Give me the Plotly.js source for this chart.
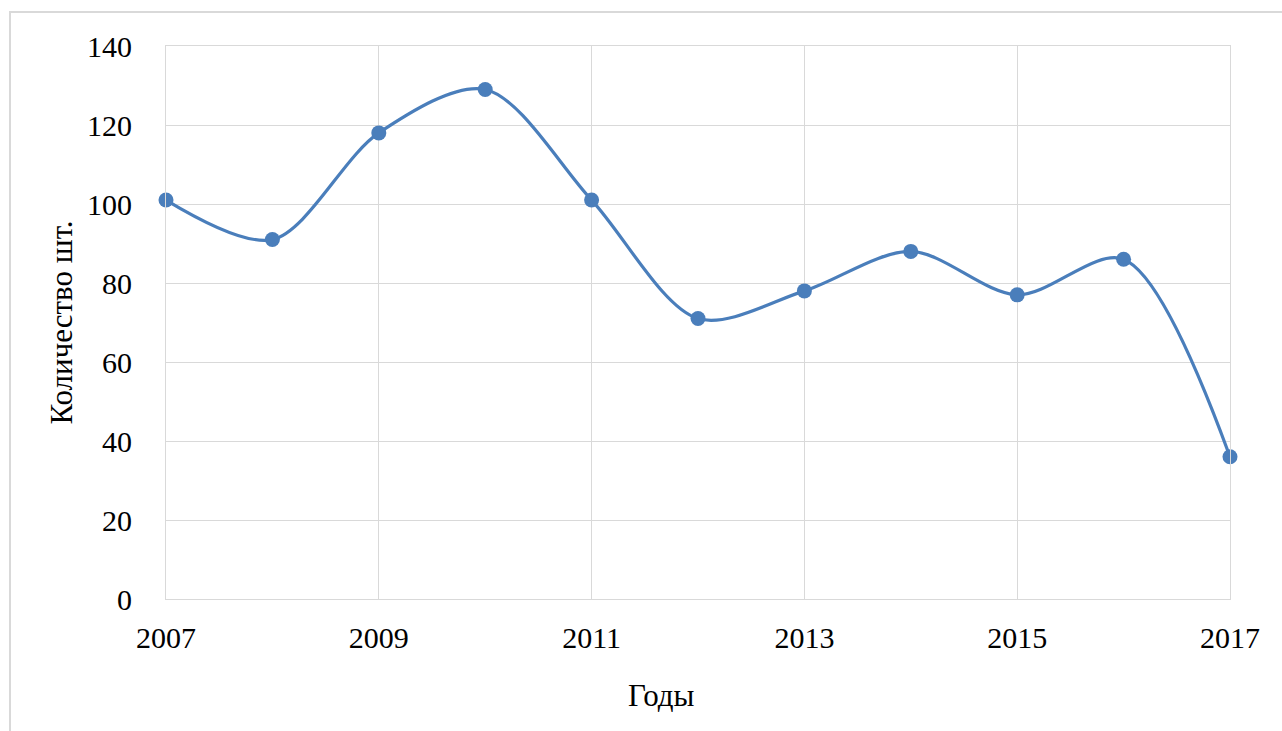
<!DOCTYPE html>
<html>
<head>
<meta charset="utf-8">
<script src="https://cdn.plot.ly/plotly-3.0.1.min.js"></script>
<style>
  html, body { margin: 0; padding: 0; background: #ffffff; overflow: hidden; }
  #wrap { position: relative; width: 1282px; height: 731px; }
  #chart { position: absolute; left: 0; top: 0; width: 1282px; height: 731px; }
  #frame { position: absolute; left: 9px; top: 11px; width: 1300px; height: 760px;
           border: 2px solid #d9d9d9; box-sizing: border-box; pointer-events: none; }
</style>
</head>
<body>
<div id="wrap">
  <div id="chart"></div>
  <div id="frame"></div>
</div>
<script>
// Годы и количество (шт.)
const years = [2007, 2008, 2009, 2010, 2011, 2012, 2013, 2014, 2015, 2016, 2017];
const counts = [101, 91, 118, 129, 101, 71, 78, 88, 77, 86, 36];
const xTickVals = [2007, 2009, 2011, 2013, 2015, 2017];
const yTickVals = [0, 20, 40, 60, 80, 100, 120, 140];

const lineColor = '#4a7ebb';
const gridColor = '#d9d9d9';
const serif = 'Liberation Serif';

const trace = {
  x: years,
  y: counts,
  type: 'scatter',
  mode: 'lines+markers',
  line: { color: lineColor, width: 3.2, shape: 'spline', smoothing: 0.9 },
  marker: { color: lineColor, size: 15 },
  cliponaxis: false,
  hoverinfo: 'x+y'
};

const layout = {
  width: 1282,
  height: 731,
  margin: { l: 166, r: 52, t: 46, b: 132 },
  paper_bgcolor: 'rgba(0,0,0,0)',
  plot_bgcolor: '#ffffff',
  showlegend: false,
  font: { family: serif, size: 30, color: '#000000' },
  xaxis: {
    range: [2007, 2017],
    tickvals: xTickVals,
    ticktext: xTickVals.map(String),
    showgrid: true,
    gridcolor: gridColor,
    gridwidth: 1,
    showline: true,
    mirror: true,
    linecolor: gridColor,
    linewidth: 1,
    zeroline: false,
    ticks: '',
    ticklabelstandoff: 12,
    tickfont: { family: serif, size: 30, color: '#000000' }
  },
  yaxis: {
    range: [0, 140],
    tickvals: yTickVals,
    showgrid: true,
    gridcolor: gridColor,
    gridwidth: 1,
    showline: true,
    mirror: true,
    linecolor: gridColor,
    linewidth: 1,
    zeroline: false,
    ticks: '',
    ticklabelstandoff: 27,
    tickfont: { family: serif, size: 30, color: '#000000' },
    title: { text: 'Количество шт.', font: { family: serif, size: 31, color: '#000000' }, standoff: 5 }
  },
  annotations: [{
    text: 'Годы',
    xref: 'paper', yref: 'paper',
    x: 0.466, y: -0.174,
    xanchor: 'center', yanchor: 'middle',
    showarrow: false,
    font: { family: serif, size: 31, color: '#000000' }
  }]
};

Plotly.newPlot('chart', [trace], layout, { displayModeBar: false, staticPlot: true });
</script>
</body>
</html>
